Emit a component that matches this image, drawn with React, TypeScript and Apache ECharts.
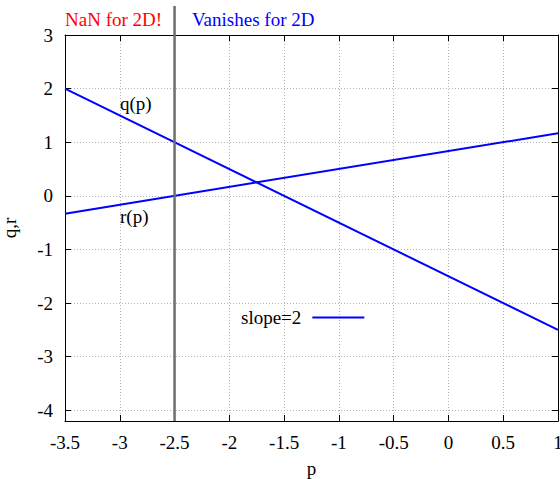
import React, { useEffect, useRef } from "react";
import * as echarts from "echarts";

const pValues = [-3.5, 1];
const qValues = [2, -2.5];
const rValues = [-0.333, 1.167];
const yTicks = [-4, -3, -2, -1, 0, 1, 2, 3];
const xMin = -3.5;
const xMax = 1;
const yMin = -4.2;
const yMax = 3;
const markerP = -2.5;
const markerTop = 3.54;
const FONT = "Liberation Serif";

export default function App() {
  const ref = useRef<HTMLDivElement>(null);
  useEffect(() => {
    const chart = echarts.init(ref.current!, null, { renderer: "svg" });
    const axisLine = { show: true, onZero: false, lineStyle: { color: "#000", width: 1 } };
    const tick = { show: true, inside: true, length: 6, lineStyle: { color: "#000", width: 1 } };
    const split = { show: true, lineStyle: { color: "#b4b4b4", type: [1, 2], width: 1 } };
    const labelStyle = { color: "#000", fontFamily: FONT, fontSize: 19, fontWeight: "normal" };
    chart.setOption({
      animation: false,
      textStyle: { fontFamily: FONT, fontSize: 19, color: "#000" },
      grid: { left: 65, right: 2, top: 35, bottom: 58, containLabel: false, outerBoundsMode: "none" },
      xAxis: [
        {
          type: "value", min: xMin, max: xMax, interval: 0.5, position: "bottom",
          axisLine, axisTick: tick, splitLine: split,
          axisLabel: { ...labelStyle, margin: 12 },
          name: "p", nameLocation: "middle", nameGap: 38,
          nameTextStyle: { ...labelStyle },
        },
        {
          type: "value", min: xMin, max: xMax, interval: 0.5, position: "top",
          axisLine, axisTick: tick, splitLine: { show: false }, axisLabel: { show: false },
        },
      ],
      yAxis: [
        {
          type: "value", min: yMin, max: yMax, position: "left",
          axisLine, axisTick: { ...tick, customValues: yTicks }, splitLine: split,
          axisLabel: { ...labelStyle, margin: 12, customValues: yTicks },
          name: "q,r", nameLocation: "middle", nameGap: 46, nameRotate: 90,
          nameTextStyle: { ...labelStyle },
        },
        {
          type: "value", min: yMin, max: yMax, position: "right",
          axisLine, axisTick: { ...tick, customValues: yTicks }, splitLine: { show: false },
          axisLabel: { show: false, customValues: yTicks },
        },
      ],
      legend: {
        data: [{ name: "slope=2", icon: "rect" }], left: 241, top: 308, padding: 0, align: "right",
        itemWidth: 52, itemHeight: 2,
        textStyle: { ...labelStyle, padding: [0, 6, 0, 0] },
      },
      series: [
        {
          name: "slope=2", type: "line", xAxisIndex: 0, yAxisIndex: 0, symbol: "none",
          data: pValues.map((p, i) => [p, qValues[i]]),
          lineStyle: { color: "#0000ff", width: 2 }, itemStyle: { color: "#0000ff" },
        },
        {
          name: "r", type: "line", xAxisIndex: 0, yAxisIndex: 0, symbol: "none",
          data: pValues.map((p, i) => [p, rValues[i]]),
          lineStyle: { color: "#0000ff", width: 2 }, itemStyle: { color: "#0000ff" },
        },
      ],
    });
    const top = chart.convertToPixel({ xAxisIndex: 0, yAxisIndex: 0 }, [markerP, markerTop]);
    const bot = chart.convertToPixel({ xAxisIndex: 0, yAxisIndex: 0 }, [markerP, yMin]);
    const font = `19px ${FONT}`;
    chart.setOption({
      graphic: [
        {
          type: "line", id: "marker", z: 10,
          shape: { x1: top[0], y1: top[1], x2: bot[0], y2: bot[1] },
          style: { stroke: "#6e6e6e", lineWidth: 2.5 },
        },
        { type: "text", id: "nan", x: 65, y: 19, style: { text: "NaN for 2D!", fill: "#ff0000", font, verticalAlign: "middle" } },
        { type: "text", id: "van", x: 192, y: 19, style: { text: "Vanishes for 2D", fill: "#0000ff", font, verticalAlign: "middle" } },
        { type: "text", id: "q", x: 120, y: 103, style: { text: "q(p)", fill: "#000", font, verticalAlign: "middle" } },
        { type: "text", id: "r", x: 120, y: 216, style: { text: "r(p)", fill: "#000", font, verticalAlign: "middle" } },
      ],
    });
    return () => chart.dispose();
  }, []);
  return <div ref={ref} style={{ position: "absolute", left: 0, top: 0, width: 560, height: 479 }} />;
}
